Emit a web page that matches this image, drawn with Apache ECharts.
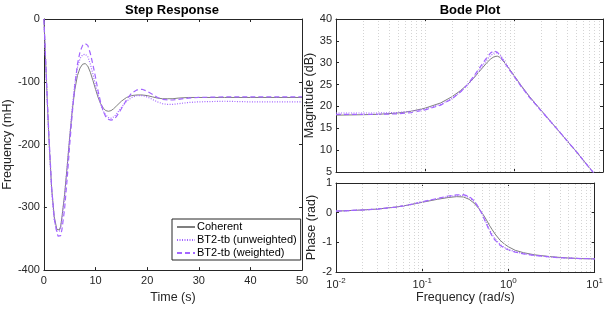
<!DOCTYPE html>
<html>
<head>
<meta charset="utf-8">
<title>Step Response / Bode Plot</title>
<script src="https://cdn.jsdelivr.net/npm/echarts@6/dist/echarts.min.js"></script>
<style>
  html, body { margin: 0; padding: 0; background: #fff; }
  #main { width: 606px; height: 309px; }
</style>
</head>
<body>
<div id="main"></div>
<script type="text/javascript">

// ---- step response (time in s, value in mH) ----
var stepTime = [0, 0.25, 0.5, 0.75, 1, 1.5, 2, 2.5, 2.75, 3, 3.25, 3.5, 4, 4.5, 5, 5.5, 6, 6.5, 7, 7.5,
  8, 8.5, 9, 9.5, 10, 10.5, 11, 11.5, 12, 12.5, 13, 13.5, 14, 15, 16, 17, 18, 19, 20, 21,
  22, 23, 24, 25, 26, 28, 30, 35, 40, 45, 50];
var stepCoherent = [0, -50, -100, -150, -195, -270, -315, -335, -338, -336, -330, -315, -280, -235, -188, -145, -112, -90, -78, -72,
  -71, -75, -85, -98, -112, -125, -135, -142, -146, -147, -146, -143, -139, -131, -125, -122, -121, -121, -122, -124,
  -126, -127, -127, -127, -126, -125, -125, -125, -125, -125, -125];
var stepUnweighted = [0, -50, -100, -152, -198, -275, -320, -338, -340, -338, -332, -318, -283, -237, -187, -140, -102, -77, -63, -57,
  -56, -60, -72, -88, -106, -122, -136, -147, -153, -157, -158, -156, -152, -141, -131, -125, -122, -122, -124, -128,
  -132, -135, -136, -136, -135, -133, -132, -131, -132, -132, -132];
var stepWeighted = [0, -48, -96, -146, -190, -268, -318, -340, -346, -348, -345, -335, -303, -255, -200, -150, -105, -72, -52, -42,
  -39, -42, -55, -73, -93, -115, -133, -147, -156, -160, -161, -160, -156, -143, -129, -118, -113, -112, -115, -120,
  -125, -128, -129, -129, -128, -126, -125, -124, -124, -124, -124];

// ---- bode (frequency in rad/s) ----
var freq = [0.01, 0.02, 0.03, 0.05, 0.07, 0.1, 0.15, 0.2, 0.25, 0.3, 0.35, 0.4, 0.45, 0.5, 0.55, 0.6,
  0.65, 0.7, 0.8, 0.9, 1, 1.2, 1.5, 2, 3, 4, 5, 6, 7, 8, 10];
var magCoherent = [18.0, 18.1, 18.2, 18.5, 18.9, 19.6, 20.8, 22.2, 23.6, 25.0, 26.4, 27.8, 29.0, 30.1, 30.9, 31.4,
  31.5, 31.2, 29.8, 28.4, 27.1, 24.8, 22.2, 19.2, 15.0, 12.0, 9.7, 7.7, 6.0, 4.6, 2.0];
var magUnweighted = [18.5, 18.5, 18.5, 18.6, 18.9, 19.4, 20.5, 21.8, 23.3, 24.9, 26.5, 28.0, 29.5, 30.8, 31.7, 32.2,
  32.3, 31.8, 30.0, 28.4, 27.0, 24.7, 22.1, 19.1, 15.0, 12.0, 9.7, 7.7, 6.0, 4.6, 2.0];
var magWeighted = [18.2, 18.2, 18.2, 18.3, 18.6, 19.2, 20.3, 21.7, 23.3, 25.0, 26.8, 28.5, 30.0, 31.3, 32.3, 32.7,
  32.4, 31.5, 29.7, 28.2, 26.9, 24.6, 22.0, 19.1, 15.0, 12.0, 9.7, 7.7, 6.0, 4.6, 2.0];
var phaseCoherent = [0.05, 0.09, 0.12, 0.19, 0.26, 0.35, 0.45, 0.51, 0.54, 0.53, 0.45, 0.32, 0.15, -0.03, -0.22, -0.42,
  -0.58, -0.72, -0.93, -1.06, -1.15, -1.27, -1.35, -1.42, -1.48, -1.51, -1.53, -1.54, -1.55, -1.55, -1.56];
var phaseUnweighted = [0.05, 0.09, 0.12, 0.19, 0.26, 0.36, 0.47, 0.54, 0.57, 0.58, 0.52, 0.38, 0.18, -0.06, -0.32, -0.56,
  -0.75, -0.89, -1.07, -1.18, -1.24, -1.32, -1.38, -1.44, -1.49, -1.52, -1.53, -1.54, -1.55, -1.55, -1.56];
var phaseWeighted = [0.05, 0.09, 0.12, 0.19, 0.26, 0.37, 0.48, 0.56, 0.60, 0.61, 0.55, 0.40, 0.18, -0.08, -0.35, -0.60,
  -0.80, -0.93, -1.10, -1.20, -1.26, -1.33, -1.39, -1.44, -1.49, -1.52, -1.53, -1.54, -1.55, -1.55, -1.56];

// vertical log grid lines of the bode axes
var gridFreqs = [0.02, 0.03, 0.04, 0.05, 0.06, 0.07, 0.08, 0.09, 0.1, 0.2, 0.3, 0.4, 0.5, 0.6, 0.7, 0.8, 0.9,
  1, 2, 3, 4, 5, 6, 7, 8, 9];

var seriesNames = ['Coherent', 'BT2-tb (unweighted)', 'BT2-tb (weighted)'];

var ink = '#262626';
var gray = '#7f7f7f';
var purple = '#a366ff';
var font = 'Liberation Sans, Arial, Helvetica, sans-serif';

function pairs(xs, ys) {
  return xs.map(function (x, i) { return [x, ys[i]]; });
}

function lineSeries(name, idx, data, style) {
  return {
    name: name,
    type: 'line',
    xAxisIndex: idx,
    yAxisIndex: idx,
    data: data,
    symbol: 'none',
    showSymbol: false,
    clip: true,
    animation: false,
    color: style.color,
    itemStyle: { color: style.color },
    lineStyle: style
  };
}

var styleCoherent = { color: gray, width: 1, type: 'solid' };
var styleUnweighted = { color: purple, width: 1.2, type: [1, 1.5] };
var styleWeighted = { color: purple, width: 1.2, type: [5, 3] };

var labelStyle = { color: ink, fontSize: 11, fontFamily: font };
var tickStyle = { show: true, inside: true, length: 3, lineStyle: { color: ink } };
var lineAxis = { show: true, onZero: false, lineStyle: { color: ink } };

function mainY(idx, min, max, interval, name, gap) {
  return {
    gridIndex: idx, type: 'value', min: min, max: max, interval: interval,
    name: name, nameLocation: 'middle', nameGap: gap,
    nameTextStyle: { color: ink, fontSize: 12.5, fontFamily: font },
    axisLine: lineAxis,
    axisTick: tickStyle,
    axisLabel: Object.assign({ margin: 4 }, labelStyle),
    splitLine: { show: false }
  };
}
function sideY(idx, min, max, interval) {
  return {
    gridIndex: idx, type: 'value', position: 'right', min: min, max: max, interval: interval,
    axisLine: lineAxis, axisTick: tickStyle,
    axisLabel: { show: false }, splitLine: { show: false }
  };
}
function logX(idx, pos, withLabel) {
  return {
    gridIndex: idx, type: 'log', logBase: 10, min: 0.01, max: 10, position: pos,
    name: withLabel ? 'Frequency (rad/s)' : '', nameLocation: 'middle', nameGap: 17,
    nameTextStyle: { color: ink, fontSize: 12.5, fontFamily: font },
    axisLine: lineAxis, axisTick: tickStyle,
    axisLabel: withLabel ? {
      color: ink, fontSize: 11, fontFamily: font, margin: 5,
      formatter: function (v) { return '10{s|' + Math.round(Math.log10(v)) + '}'; },
      rich: { s: { fontSize: 8, fontFamily: font, color: ink, padding: [0, 0, 7, 0] } }
    } : { show: false },
    splitLine: { show: false }
  };
}

var gridMark = {
  silent: true,
  symbol: ['none', 'none'],
  label: { show: false },
  lineStyle: { color: '#d4d4d4', width: 1, type: [1, 2] },
  data: gridFreqs.map(function (f) { return { xAxis: f }; }),
  animation: false
};

var magC = lineSeries(seriesNames[0], 2, pairs(freq, magCoherent), styleCoherent);
magC.markLine = gridMark;
var phC = lineSeries(seriesNames[0], 4, pairs(freq, phaseCoherent), styleCoherent);
phC.markLine = gridMark;

var option = {
  backgroundColor: '#fff',
  animation: false,
  textStyle: { fontFamily: font },
  graphic: [
    { type: 'text', x: 172, y: 10, style: { text: 'Step Response', align: 'center', verticalAlign: 'middle', font: 'bold 13px ' + font, fill: '#000' } },
    { type: 'text', x: 470, y: 10, style: { text: 'Bode Plot', align: 'center', verticalAlign: 'middle', font: 'bold 13px ' + font, fill: '#000' } }
  ],
  legend: {
    orient: 'vertical',
    left: 172, top: 219,
    padding: [2, 4, 1, 4],
    itemGap: 1,
    itemWidth: 18,
    itemHeight: 8,
    borderColor: ink,
    borderWidth: 1,
    borderRadius: 0,
    backgroundColor: '#fff',
    itemStyle: { opacity: 0 },
    textStyle: { color: '#000', fontSize: 11, lineHeight: 12, fontFamily: font, padding: [0, 0, 0, -3] },
    data: seriesNames
  },
  grid: [
    { left: 43, top: 19, width: 259, height: 253 },
    { left: 336, top: 19, width: 267, height: 153 },
    { left: 336, top: 183, width: 267, height: 89 }
  ],
  xAxis: [
    {
      gridIndex: 0, type: 'value', min: 0, max: 50, interval: 10,
      name: 'Time (s)', nameLocation: 'middle', nameGap: 19,
      nameTextStyle: { color: ink, fontSize: 12.5, fontFamily: font },
      axisLine: lineAxis, axisTick: tickStyle,
      axisLabel: Object.assign({ margin: 5 }, labelStyle),
      splitLine: { show: false }
    },
    {
      gridIndex: 0, type: 'value', position: 'top', min: 0, max: 50, interval: 10,
      axisLine: lineAxis, axisTick: tickStyle,
      axisLabel: { show: false }, splitLine: { show: false }
    },
    logX(1, 'bottom', false),
    logX(1, 'top', false),
    logX(2, 'bottom', true),
    logX(2, 'top', false)
  ],
  yAxis: [
    mainY(0, -400, 0, 100, 'Frequency (mH)', 23),
    sideY(0, -400, 0, 100),
    mainY(1, 5, 40, 5, 'Magnitude (dB)', 15),
    sideY(1, 5, 40, 5),
    mainY(2, -2, 1, 1, 'Phase (rad)', 15),
    sideY(2, -2, 1, 1)
  ],
  series: [
    lineSeries(seriesNames[0], 0, pairs(stepTime, stepCoherent), styleCoherent),
    lineSeries(seriesNames[1], 0, pairs(stepTime, stepUnweighted), styleUnweighted),
    lineSeries(seriesNames[2], 0, pairs(stepTime, stepWeighted), styleWeighted),
    magC,
    lineSeries(seriesNames[1], 2, pairs(freq, magUnweighted), styleUnweighted),
    lineSeries(seriesNames[2], 2, pairs(freq, magWeighted), styleWeighted),
    phC,
    lineSeries(seriesNames[1], 4, pairs(freq, phaseUnweighted), styleUnweighted),
    lineSeries(seriesNames[2], 4, pairs(freq, phaseWeighted), styleWeighted)
  ]
};

echarts.init(document.getElementById('main')).setOption(option);

</script>
</body>
</html>
